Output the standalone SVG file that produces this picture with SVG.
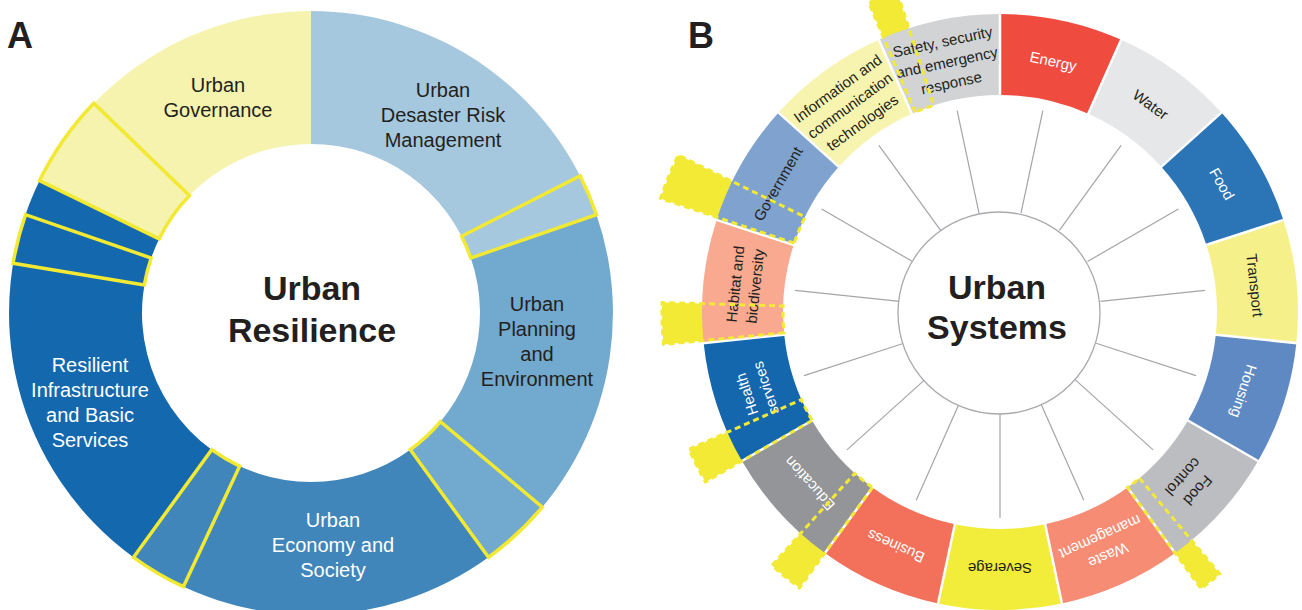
<svg xmlns="http://www.w3.org/2000/svg" width="1302" height="610" viewBox="0 0 1302 610">
<style>
  text { font-family: "Liberation Sans", Arial, sans-serif; }
  .lbl { font-size: 20px; text-anchor: middle; }
  .dark { fill: #231F20; }
  .light { fill: #FFFFFF; }
  .title { font-size: 34px; font-weight: bold; text-anchor: middle; fill: #231F20; }
  .panel { font-size: 36px; font-weight: bold; fill: #231F20; }
  .outline { fill: none; stroke: #F2E933; stroke-width: 3.5; }
  .seglbl { font-size: 15px; text-anchor: middle; }
  .spoke { stroke: #A3A5A8; stroke-width: 1.2; }
  .gap { stroke: #FFFFFF; stroke-width: 2.5; }
  .hl-fill { fill: #F2EA35; }
  .hl-dash { fill: none; stroke: #F2EA35; stroke-width: 3; stroke-dasharray: 6 4; }
</style>
<defs>
  <!-- one 24-degree ring sector of the urban-systems wheel, centred on the origin -->
  <path id="seg" d="M0,-298 A298,298 0 0 1 121.2,-272.2 L88.3,-198.2 A217,217 0 0 0 0,-217 Z"/>
</defs>

<rect width="1302" height="610" fill="#FFFFFF"/>

<!-- ===== Panel A: Urban Resilience ===== -->
<text class="panel" x="7" y="48">A</text>

<g id="a-desaster">
  <path fill="#A5C8DE" d="M311,11 A302,302 0 0 1 596.5,214.7 L470.8,258 A169,169 0 0 0 311,144 Z"/>
  <text class="lbl dark"><tspan x="443" y="97">Urban</tspan><tspan x="443" y="122">Desaster Risk</tspan><tspan x="443" y="147">Management</tspan></text>
</g>
<g id="a-planning">
  <path fill="#72A9CE" d="M596.5,214.7 A302,302 0 0 1 488.5,557.3 L410.3,449.7 A169,169 0 0 0 470.8,258 Z"/>
  <text class="lbl dark"><tspan x="537" y="311">Urban</tspan><tspan x="537" y="336">Planning</tspan><tspan x="537" y="361">and</tspan><tspan x="537" y="386">Environment</tspan></text>
</g>
<g id="a-economy">
  <path fill="#4086BB" d="M488.5,557.3 A302,302 0 0 1 133.5,557.3 L211.7,449.7 A169,169 0 0 0 410.3,449.7 Z"/>
  <text class="lbl light"><tspan x="333" y="527">Urban</tspan><tspan x="333" y="552">Economy and</tspan><tspan x="333" y="577">Society</tspan></text>
</g>
<g id="a-infrastructure">
  <path fill="#1468AE" d="M133.5,557.3 A302,302 0 0 1 39.6,180.6 L159.1,238.9 A169,169 0 0 0 211.7,449.7 Z"/>
  <text class="lbl light"><tspan x="90" y="372">Resilient</tspan><tspan x="90" y="397">Infrastructure</tspan><tspan x="90" y="422">and Basic</tspan><tspan x="90" y="447">Services</tspan></text>
</g>
<g id="a-governance">
  <path fill="#F5F3AD" d="M39.6,180.6 A302,302 0 0 1 311,11 L311,144 A169,169 0 0 0 159.1,238.9 Z"/>
  <text class="lbl dark"><tspan x="218" y="92">Urban</tspan><tspan x="218" y="117">Governance</tspan></text>
</g>

<!-- outlined sub-blocks -->
<g id="a-subblocks">
  <path class="outline" d="M580.1,175.9 A302,302 0 0 1 596.5,214.7 L470.8,258 A169,169 0 0 0 461.6,236.3 Z"/>
  <path class="outline" d="M542.3,507.1 A302,302 0 0 1 488.5,557.3 L410.3,449.7 A169,169 0 0 0 440.5,421.6 Z"/>
  <path class="outline" d="M183.4,586.7 A302,302 0 0 1 133.5,557.3 L211.7,449.7 A169,169 0 0 0 239.6,466.2 Z"/>
  <path class="outline" d="M13.1,263.2 A302,302 0 0 1 25.5,214.7 L151.2,258 A169,169 0 0 0 144.3,285.1 Z"/>
  <path class="outline" d="M39.6,180.6 A302,302 0 0 1 93.8,103.2 L189.4,195.6 A169,169 0 0 0 159.1,238.9 Z"/>
</g>

<g id="a-center">
  <text class="title"><tspan x="312" y="300">Urban</tspan><tspan x="312" y="342">Resilience</tspan></text>
</g>

<!-- ===== Panel B: Urban Systems ===== -->
<text class="panel" x="688" y="48">B</text>

<!-- solid parts of the highlight wedges (the ring covers their inner part) -->
<g id="b-highlight-fills" class="hl-fill">
  <path transform="translate(1000 312) rotate(337)" d="M0,-217 L0,-336 A336,336 0 0 1 30.4,-334.6 L19.7,-216.1 A217,217 0 0 0 0,-217 Z"/>
  <path transform="translate(1000 312) rotate(288.5)" d="M0,-217 L0,-358 A358,358 0 0 1 46.7,-354.9 L28.3,-215.1 A217,217 0 0 0 0,-217 Z"/>
  <path transform="translate(1000 312) rotate(264.5)" d="M0,-217 L0,-338 A338,338 0 0 1 41.8,-335.4 L26.8,-215.3 A217,217 0 0 0 0,-217 Z"/>
  <path transform="translate(1000 312) rotate(240)" d="M0,-217 L0,-340 A340,340 0 0 1 36.7,-338 L23.4,-215.7 A217,217 0 0 0 0,-217 Z"/>
  <path transform="translate(1000 312) rotate(216)" d="M0,-217 L0,-341 A341,341 0 0 1 35.6,-339.1 L22.7,-215.8 A217,217 0 0 0 0,-217 Z"/>
  <path transform="translate(1000 312) rotate(140)" d="M0,-217 L0,-342 A342,342 0 0 1 23.9,-341.2 L15.1,-216.5 A217,217 0 0 0 0,-217 Z"/>
</g>

<g id="b-energy" transform="translate(1000 312) rotate(0)">
  <use href="#seg" fill="#EF4C3F"/>
  <text class="seglbl light" transform="rotate(12)" x="0" y="-251">Energy</text>
</g>
<g id="b-water" transform="translate(1000 312) rotate(24)">
  <use href="#seg" fill="#E6E7E8"/>
  <text class="seglbl dark" transform="rotate(12)" x="0" y="-251">Water</text>
</g>
<g id="b-food" transform="translate(1000 312) rotate(48)">
  <use href="#seg" fill="#2B75B7"/>
  <text class="seglbl light" transform="rotate(12)" x="0" y="-251">Food</text>
</g>
<g id="b-transport" transform="translate(1000 312) rotate(72)">
  <use href="#seg" fill="#F6F08B"/>
  <text class="seglbl dark" transform="rotate(12)" x="0" y="-251">Transport</text>
</g>
<g id="b-housing" transform="translate(1000 312) rotate(96)">
  <use href="#seg" fill="#5E89C3"/>
  <text class="seglbl light" transform="rotate(12)" x="0" y="-251">Housing</text>
</g>
<g id="b-food-control" transform="translate(1000 312) rotate(120)">
  <use href="#seg" fill="#BCBDC0"/>
  <text class="seglbl dark" transform="rotate(12)"><tspan x="0" y="-261">Food</tspan><tspan x="0" y="-241">control</tspan></text>
</g>
<g id="b-waste" transform="translate(1000 312) rotate(144)">
  <use href="#seg" fill="#F58C73"/>
  <text class="seglbl light" transform="rotate(12)"><tspan x="0" y="-261">Waste</tspan><tspan x="0" y="-241">management</tspan></text>
</g>
<g id="b-severage" transform="translate(1000 312) rotate(168)">
  <use href="#seg" fill="#F2EC3A"/>
  <text class="seglbl dark" transform="rotate(12)" x="0" y="-251">Severage</text>
</g>
<g id="b-business" transform="translate(1000 312) rotate(192)">
  <use href="#seg" fill="#F3715A"/>
  <text class="seglbl light" transform="rotate(12)" x="0" y="-251">Business</text>
</g>
<g id="b-education" transform="translate(1000 312) rotate(216)">
  <use href="#seg" fill="#939598"/>
  <text class="seglbl light" transform="rotate(12)" x="0" y="-251">Education</text>
</g>
<g id="b-health" transform="translate(1000 312) rotate(240)">
  <use href="#seg" fill="#1467AD"/>
  <text class="seglbl light" transform="rotate(12)"><tspan x="0" y="-261">Health</tspan><tspan x="0" y="-241">services</tspan></text>
</g>
<g id="b-habitat" transform="translate(1000 312) rotate(264)">
  <use href="#seg" fill="#F8A98F"/>
  <text class="seglbl dark" transform="rotate(12)"><tspan x="0" y="-261">Habitat and</tspan><tspan x="0" y="-241">biodiversity</tspan></text>
</g>
<g id="b-government" transform="translate(1000 312) rotate(288)">
  <use href="#seg" fill="#7FA2CF"/>
  <text class="seglbl dark" transform="rotate(12)" x="0" y="-251">Government</text>
</g>
<g id="b-ict" transform="translate(1000 312) rotate(312)">
  <use href="#seg" fill="#F7F4AF"/>
  <text class="seglbl dark" transform="rotate(12)"><tspan x="0" y="-271">Information and</tspan><tspan x="0" y="-250">communication</tspan><tspan x="0" y="-229">technologies</tspan></text>
</g>
<g id="b-safety" transform="translate(1000 312) rotate(336)">
  <use href="#seg" fill="#D1D3D4"/>
  <text class="seglbl dark" transform="rotate(12)"><tspan x="0" y="-271">Safety, security</tspan><tspan x="0" y="-250">and emergency</tspan><tspan x="0" y="-229">response</tspan></text>
</g>

<!-- white seams between ring sectors -->
<g id="b-seams" class="gap" transform="translate(1000 312)">
  <line x1="0" y1="-215" x2="0" y2="-299" transform="rotate(0)"/>
  <line x1="0" y1="-215" x2="0" y2="-299" transform="rotate(24)"/>
  <line x1="0" y1="-215" x2="0" y2="-299" transform="rotate(48)"/>
  <line x1="0" y1="-215" x2="0" y2="-299" transform="rotate(72)"/>
  <line x1="0" y1="-215" x2="0" y2="-299" transform="rotate(96)"/>
  <line x1="0" y1="-215" x2="0" y2="-299" transform="rotate(120)"/>
  <line x1="0" y1="-215" x2="0" y2="-299" transform="rotate(144)"/>
  <line x1="0" y1="-215" x2="0" y2="-299" transform="rotate(168)"/>
  <line x1="0" y1="-215" x2="0" y2="-299" transform="rotate(192)"/>
  <line x1="0" y1="-215" x2="0" y2="-299" transform="rotate(216)"/>
  <line x1="0" y1="-215" x2="0" y2="-299" transform="rotate(240)"/>
  <line x1="0" y1="-215" x2="0" y2="-299" transform="rotate(264)"/>
  <line x1="0" y1="-215" x2="0" y2="-299" transform="rotate(288)"/>
  <line x1="0" y1="-215" x2="0" y2="-299" transform="rotate(312)"/>
  <line x1="0" y1="-215" x2="0" y2="-299" transform="rotate(336)"/>
</g>

<!-- spokes from the hub to each sector -->
<g id="connectors" class="spoke" transform="translate(1000 312)">
  <line x1="0" y1="-101" x2="0" y2="-206" transform="rotate(12)"/>
  <line x1="0" y1="-101" x2="0" y2="-206" transform="rotate(36)"/>
  <line x1="0" y1="-101" x2="0" y2="-206" transform="rotate(60)"/>
  <line x1="0" y1="-101" x2="0" y2="-206" transform="rotate(84)"/>
  <line x1="0" y1="-101" x2="0" y2="-206" transform="rotate(108)"/>
  <line x1="0" y1="-101" x2="0" y2="-206" transform="rotate(132)"/>
  <line x1="0" y1="-101" x2="0" y2="-206" transform="rotate(156)"/>
  <line x1="0" y1="-101" x2="0" y2="-206" transform="rotate(180)"/>
  <line x1="0" y1="-101" x2="0" y2="-206" transform="rotate(204)"/>
  <line x1="0" y1="-101" x2="0" y2="-206" transform="rotate(228)"/>
  <line x1="0" y1="-101" x2="0" y2="-206" transform="rotate(252)"/>
  <line x1="0" y1="-101" x2="0" y2="-206" transform="rotate(276)"/>
  <line x1="0" y1="-101" x2="0" y2="-206" transform="rotate(300)"/>
  <line x1="0" y1="-101" x2="0" y2="-206" transform="rotate(324)"/>
  <line x1="0" y1="-101" x2="0" y2="-206" transform="rotate(348)"/>
</g>

<g id="b-center">
  <circle cx="999" cy="313" r="101" fill="#FFFFFF" stroke="#A7A9AC" stroke-width="1.3"/>
  <text class="title"><tspan x="997" y="299">Urban</tspan><tspan x="997" y="339">Systems</tspan></text>
</g>

<!-- dashed outlines of the highlight wedges -->
<g id="b-highlight-outlines" class="hl-dash">
  <path transform="translate(1000 312) rotate(337)" d="M0,-217 L0,-336 A336,336 0 0 1 30.4,-334.6 L19.7,-216.1 A217,217 0 0 0 0,-217 Z"/>
  <path transform="translate(1000 312) rotate(288.5)" d="M0,-217 L0,-358 A358,358 0 0 1 46.7,-354.9 L28.3,-215.1 A217,217 0 0 0 0,-217 Z"/>
  <path transform="translate(1000 312) rotate(264.5)" d="M0,-217 L0,-338 A338,338 0 0 1 41.8,-335.4 L26.8,-215.3 A217,217 0 0 0 0,-217 Z"/>
  <path transform="translate(1000 312) rotate(240)" d="M0,-217 L0,-340 A340,340 0 0 1 36.7,-338 L23.4,-215.7 A217,217 0 0 0 0,-217 Z"/>
  <path transform="translate(1000 312) rotate(216)" d="M0,-217 L0,-341 A341,341 0 0 1 35.6,-339.1 L22.7,-215.8 A217,217 0 0 0 0,-217 Z"/>
  <path transform="translate(1000 312) rotate(140)" d="M0,-217 L0,-342 A342,342 0 0 1 23.9,-341.2 L15.1,-216.5 A217,217 0 0 0 0,-217 Z"/>
</g>
</svg>
